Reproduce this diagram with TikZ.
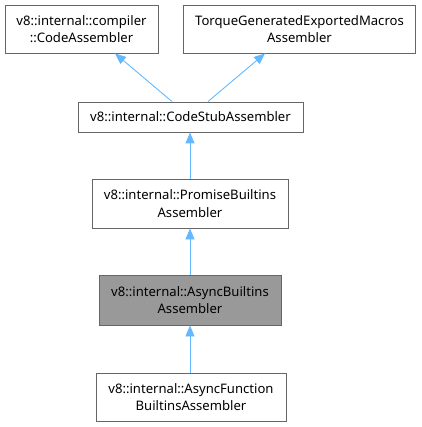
\documentclass[tikz,border=0pt]{standalone}
\usepackage{fontspec}
\setmainfont{Noto Sans}
\usetikzlibrary{arrows.meta}
\definecolor{edgeblue}{HTML}{63B8FF}
\definecolor{boxgray}{HTML}{666666}
\definecolor{hlfill}{HTML}{999999}
\tikzset{
  cls/.style={draw=boxgray, line width=0.9pt, fill=white, align=center, inner sep=0pt,
    font=\fontsize{13.1}{17.5}\selectfont, text=black},
  arr/.style={draw=edgeblue, line width=0.9pt, -{Triangle[length=11pt,width=9pt,fill=edgeblue]}},
}
\begin{document}
\begin{tikzpicture}[x=1pt,y=-1pt]
\useasboundingbox (0,0) rectangle (421,427);
\node[cls, minimum width=153pt, minimum height=48pt] (b1) at (81.5,29) {v8::internal::compiler\\::CodeAssembler};
\node[cls, minimum width=232pt, minimum height=48pt] (b2) at (299.5,29) {TorqueGeneratedExportedMacros\\Assembler};
\node[cls, minimum width=225pt, minimum height=30pt] (b3) at (190.5,117) {v8::internal::CodeStubAssembler};
\node[cls, minimum width=196pt, minimum height=49pt] (b4) at (190,203.5) {v8::internal::PromiseBuiltins\\Assembler};
\node[cls, fill=hlfill, minimum width=182pt, minimum height=50pt] (b5) at (190,300) {v8::internal::AsyncBuiltins\\Assembler};
\node[cls, minimum width=190pt, minimum height=48pt] (b6) at (191,397) {v8::internal::AsyncFunction\\BuiltinsAssembler};
\draw[arr] ([xshift=-18.5pt]b3.north) -- ([xshift=33.5pt]b1.south);
\draw[arr] ([xshift=17.5pt]b3.north) -- ([xshift=-34.5pt]b2.south);
\draw[arr] (b4.north -| 190,0) -- (b3.south -| 190,0);
\draw[arr] (b5.north) -- (b4.south);
\draw[arr] (b6.south -| 190,0) ++(0,-48) -- (b5.south);
\end{tikzpicture}
\end{document}
